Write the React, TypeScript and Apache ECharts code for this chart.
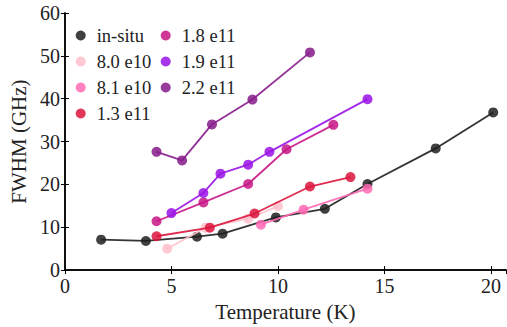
import React, { useEffect, useRef } from "react";
import * as echarts from "echarts";

const seriesNames = ["in-situ", "8.0 e10", "8.1 e10", "1.3 e11", "1.8 e11", "1.9 e11", "2.2 e11"];
const seriesColors = ["#1e1e1e", "#ffc0cb", "#ff69b4", "#dc143c", "#c71585", "#9a12e6", "#861a8b"];

const inSituX = [1.7, 3.8, 6.2, 7.4, 9.9, 12.2, 14.2, 17.4, 20.1];
const inSituY = [7.1, 6.8, 7.8, 8.5, 12.3, 14.3, 20.1, 28.4, 36.8];
const e80e10X = [4.8, 6.6, 8.6, 10.0];
const e80e10Y = [5.0, 9.9, 12.0, 14.9];
const e81e10X = [9.2, 11.2, 14.2];
const e81e10Y = [10.6, 14.1, 19.0];
const e13e11X = [4.3, 6.8, 8.9, 11.5, 13.4];
const e13e11Y = [7.9, 9.9, 13.2, 19.5, 21.7];
const e18e11X = [4.3, 6.5, 8.6, 10.4, 12.6];
const e18e11Y = [11.4, 15.8, 20.1, 28.2, 33.9];
const e19e11X = [5.0, 6.5, 7.3, 8.6, 9.6, 14.2];
const e19e11Y = [13.3, 18.0, 22.5, 24.6, 27.6, 39.9];
const e22e11X = [4.3, 5.5, 6.9, 8.8, 11.5];
const e22e11Y = [27.6, 25.6, 34.0, 39.8, 50.8];

const allX = [inSituX, e80e10X, e81e10X, e13e11X, e18e11X, e19e11X, e22e11X];
const allY = [inSituY, e80e10Y, e81e10Y, e13e11Y, e18e11Y, e19e11Y, e22e11Y];

const xTicks = [0, 5, 10, 15, 20];
const yTicks = [0, 10, 20, 30, 40, 50, 60];

const FONT = "Liberation Serif";

export default function App() {
  const ref = useRef<HTMLDivElement>(null);
  useEffect(() => {
    if (!ref.current) return;
    const chart = echarts.init(ref.current, null, { renderer: "svg" });
    const axisLine = { show: true, lineStyle: { color: "#000", width: 1.5 } };
    const tick = { show: true, inside: true, length: 4, lineStyle: { color: "#000", width: 1 } };
    const series = seriesNames.map((name, i) => ({
      name,
      type: "line",
      data: allX[i].map((x, j) => [x, allY[i][j]]),
      symbol: "circle",
      symbolSize: 10,
      color: seriesColors[i],
      lineStyle: { width: 1.8, color: seriesColors[i], opacity: 0.9 },
      itemStyle: { color: seriesColors[i], opacity: 0.85 },
      z: 2 + i,
    }));
    const legendCommon = {
      orient: "vertical",
      icon: "circle",
      itemWidth: 22,
      itemHeight: 10,
      itemGap: 7,
      textStyle: {
        fontFamily: FONT,
        fontSize: 18.5,
        fontWeight: "normal",
        color: "#222",
      },
      top: 21,
    };
    chart.setOption({
      animation: false,
      backgroundColor: "#fff",
      textStyle: { fontFamily: FONT },
      grid: { left: 63, top: 13, right: 1, bottom: 54, containLabel: false },
      legend: [
        { ...legendCommon, left: 70.7, data: seriesNames.slice(0, 4) },
        { ...legendCommon, left: 155.7, data: seriesNames.slice(4) },
      ],
      xAxis: [
        {
          type: "value",
          min: 0,
          max: 20.7,
          interval: 5,
          name: "Temperature (K)",
          nameLocation: "middle",
          nameGap: 30,
          nameTextStyle: { fontFamily: FONT, fontSize: 21, color: "#222" },
          axisLine,
          axisTick: tick,
          splitLine: { show: false },
          axisLabel: {
            fontFamily: FONT,
            fontSize: 20,
            color: "#222",
            margin: 6,
            showMaxLabel: false,
            formatter: (v: number) => (xTicks.includes(v) ? String(v) : ""),
          },
        },
        {
          type: "value",
          position: "top",
          min: 0,
          max: 20.7,
          interval: 5,
          axisLine,
          axisTick: tick,
          axisLabel: { show: false },
          splitLine: { show: false },
        },
      ],
      yAxis: [
        {
          type: "value",
          min: 0,
          max: 60,
          interval: 10,
          name: "FWHM (GHz)",
          nameLocation: "middle",
          nameGap: 34,
          nameTextStyle: { fontFamily: FONT, fontSize: 21, color: "#222" },
          axisLine,
          axisTick: tick,
          splitLine: { show: false },
          axisLabel: {
            fontFamily: FONT,
            fontSize: 20,
            color: "#222",
            margin: 5,
            formatter: (v: number) => (yTicks.includes(v) ? String(v) : ""),
          },
        },
        {
          type: "value",
          position: "right",
          min: 0,
          max: 60,
          interval: 10,
          axisLine,
          axisTick: tick,
          axisLabel: { show: false },
          splitLine: { show: false },
        },
      ],
      series,
    });
    return () => chart.dispose();
  }, []);
  return (
    <div
      ref={ref}
      style={{ position: "fixed", left: 0, top: 0, width: 507, height: 327, background: "#fff" }}
    />
  );
}
